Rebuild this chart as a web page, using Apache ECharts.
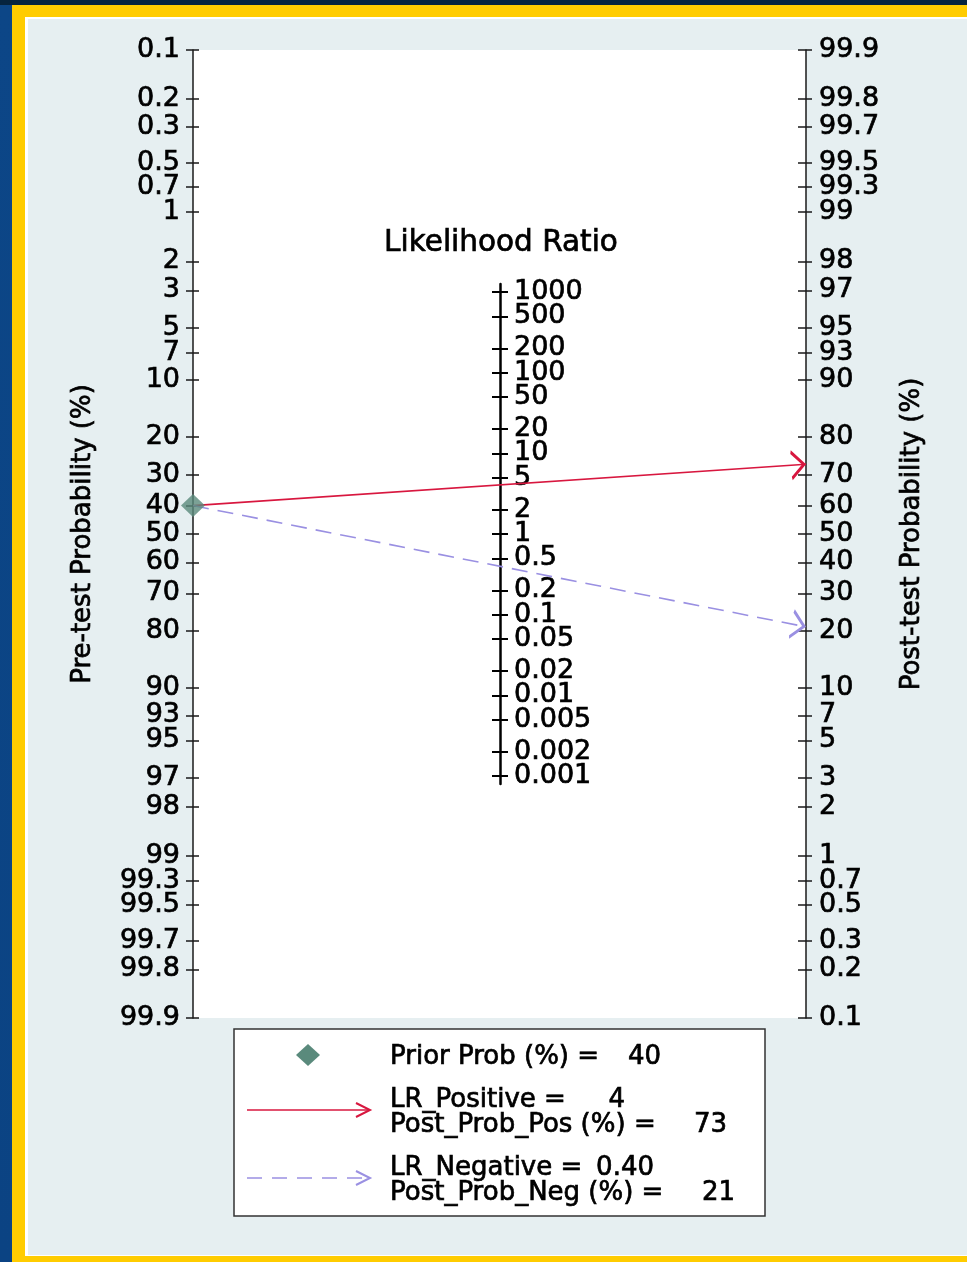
<!DOCTYPE html>
<html>
<head>
<meta charset="utf-8">
<script src="https://cdn.jsdelivr.net/npm/echarts@6/dist/echarts.min.js"></script>
<style>
html, body { margin: 0; padding: 0; }
body { width: 967px; height: 1262px; overflow: hidden; position: relative;
       background: linear-gradient(180deg, #06243f 0px, #06243f 5px, #0c4687 5px, #0b4383 100%); }
#frame { position: absolute; left: 12px; top: 5px; right: 0; bottom: 0; background: #ffcc00; }
#panel { position: absolute; left: 25px; top: 17px; right: 0; bottom: 6px; background: #e6eff1;
         border-left: 3px solid #fff; border-top: 2px solid #fff; border-bottom: 1px solid #fff; box-sizing: border-box; }
#chart { position: absolute; left: 0; top: 0; width: 967px; height: 1262px; }
</style>
</head>
<body>
<div id="frame"></div>
<div id="panel"></div>
<div id="chart"></div>
<script>
// tick values of the three scales
var preTicks = [0.1, 0.2, 0.3, 0.5, 0.7, 1, 2, 3, 5, 7, 10, 20, 30, 40, 50, 60, 70, 80, 90, 93, 95, 97, 98, 99, 99.3, 99.5, 99.7, 99.8, 99.9];
var postTicks = [99.9, 99.8, 99.7, 99.5, 99.3, 99, 98, 97, 95, 93, 90, 80, 70, 60, 50, 40, 30, 20, 10, 7, 5, 3, 2, 1, 0.7, 0.5, 0.3, 0.2, 0.1];
var lrTicks = [1000, 500, 200, 100, 50, 20, 10, 5, 2, 1, 0.5, 0.2, 0.1, 0.05, 0.02, 0.01, 0.005, 0.002, 0.001];

// results
var priorProb = [40];
var lrNames = ['LR_Positive', 'LR_Negative'];
var lrValues = ['4', '0.40'];
var postNames = ['Post_Prob_Pos', 'Post_Prob_Neg'];
var postProbs = [73, 21];

var red = '#d8173f';
var lilac = '#9a90e2';
var green = '#5a8a7c';
var FONT = 'DejaVu Sans';

function logit(p) { return Math.log(p / (100 - p)); }
function log10(v) { return Math.log(v) / Math.LN10; }
var lim = logit(99.9);

function fmtProb(v) { return String(parseFloat((100 / (1 + Math.exp(-v))).toFixed(1))); }
function fmtLR(v) { return String(parseFloat(Math.pow(10, v).toPrecision(3))); }

// a thin outline of the same colour makes the glyphs a bit heavier
var nameStyle = { fontFamily: FONT, fontSize: 26, color: '#000', textBorderColor: '#000', textBorderWidth: 0.7 };
var tickStyle = { fontFamily: FONT, fontSize: 27, lineHeight: 18, color: '#000', textBorderColor: '#000', textBorderWidth: 0.7,
                  padding: [5, 0, 0, 0], showMinLabel: true, showMaxLabel: true, hideOverlap: false };
var axisColor = '#1a1a1a';

var preVals = preTicks.map(logit);
var postVals = postTicks.map(logit);
var lrVals = lrTicks.map(log10);
// LR labels are packed tight; split over two label axes so echarts keeps all of them
var lrValsA = lrVals.filter(function (v, i) { return i % 2 === 0; });
var lrValsB = lrVals.filter(function (v, i) { return i % 2 === 1; });

// open arrow head, tip at centre of its box
var arrowPath = 'path://M6,0 M6,15 L12.3,29.3 L10.8,30 L6,19 L1.2,30 L-0.3,29.3 Z';

function gText(x, y, s, align, size) {
    return {
        type: 'text', x: x, y: y,
        style: { text: s, font: (size || 26) + 'px "DejaVu Sans"', fill: '#000', stroke: '#000', lineWidth: 0.7,
                 align: align || 'left', verticalAlign: 'middle' }
    };
}

function lrLabelAxis(vals) {
    return {
        gridIndex: 1, type: 'value', min: -3.1, max: 3.1, position: 'left',
        axisLine: { show: false }, axisTick: { show: false },
        axisLabel: Object.assign({ show: true, inside: true, customValues: vals, formatter: fmtLR, margin: 14 }, tickStyle),
        splitLine: { show: false }
    };
}

var chart = echarts.init(document.getElementById('chart'));

var option = {
    animation: false,
    grid: [
        { left: 193, top: 50, width: 613, height: 968, show: true, backgroundColor: '#fff', borderWidth: 0 },
        { left: 500, top: 284, width: 100, height: 500, show: false }
    ],
    xAxis: [
        { gridIndex: 0, type: 'value', min: 0, max: 1, show: false },
        { gridIndex: 1, type: 'value', min: 0, max: 1, show: false }
    ],
    yAxis: [
        {
            gridIndex: 0, type: 'value', min: -lim, max: lim, inverse: true, position: 'left',
            name: 'Pre-test Probability (%)', nameLocation: 'middle', nameGap: 97, nameTextStyle: nameStyle,
            axisLine: { show: true, lineStyle: { color: axisColor, width: 1.5 } },
            axisTick: { show: true, customValues: preVals, length: 7, lineStyle: { color: axisColor, width: 1.5 } },
            axisLabel: Object.assign({ show: true, customValues: preVals, formatter: fmtProb, margin: 13 }, tickStyle),
            splitLine: { show: false }
        },
        {
            gridIndex: 0, type: 'value', min: -lim, max: lim, inverse: true, position: 'left',
            axisLine: { show: false },
            axisTick: { show: true, inside: true, customValues: preVals, length: 6, lineStyle: { color: axisColor, width: 1.5 } },
            axisLabel: { show: false }, splitLine: { show: false }
        },
        {
            gridIndex: 0, type: 'value', min: -lim, max: lim, position: 'right',
            name: 'Post-test Probability (%)', nameLocation: 'middle', nameGap: 93, nameTextStyle: nameStyle,
            axisLine: { show: true, lineStyle: { color: axisColor, width: 1.5 } },
            axisTick: { show: true, customValues: postVals, length: 6, lineStyle: { color: axisColor, width: 1.5 } },
            axisLabel: Object.assign({ show: true, customValues: postVals, formatter: fmtProb, margin: 13 }, tickStyle),
            splitLine: { show: false }
        },
        {
            gridIndex: 0, type: 'value', min: -lim, max: lim, position: 'right',
            axisLine: { show: false },
            axisTick: { show: true, inside: true, customValues: postVals, length: 8, lineStyle: { color: axisColor, width: 1.5 } },
            axisLabel: { show: false }, splitLine: { show: false }
        },
        {
            gridIndex: 1, type: 'value', min: -3.1, max: 3.1, position: 'left',
            axisLine: { show: true, lineStyle: { color: '#000', width: 2.5 } },
            axisTick: { show: true, customValues: lrVals, length: 8, lineStyle: { color: '#000', width: 2 } },
            axisLabel: { show: false }, splitLine: { show: false }
        },
        {
            gridIndex: 1, type: 'value', min: -3.1, max: 3.1, position: 'left',
            axisLine: { show: false },
            axisTick: { show: true, inside: true, customValues: lrVals, length: 8, lineStyle: { color: '#000', width: 2 } },
            axisLabel: { show: false }, splitLine: { show: false }
        },
        lrLabelAxis(lrValsA),
        lrLabelAxis(lrValsB)
    ],
    series: [
        {
            type: 'lines', coordinateSystem: 'cartesian2d', xAxisIndex: 0, yAxisIndex: 0, silent: true, z: 3,
            symbol: ['none', arrowPath], symbolSize: [12, 30],
            lineStyle: { color: red, width: 1.6, opacity: 1, curveness: 0 },
            data: [{ coords: [[0, logit(priorProb[0])], [1, -logit(postProbs[0])]] }]
        },
        {
            type: 'lines', coordinateSystem: 'cartesian2d', xAxisIndex: 0, yAxisIndex: 0, silent: true, z: 3,
            symbol: ['none', arrowPath], symbolSize: [12, 30],
            lineStyle: { color: lilac, width: 1.6, opacity: 1, curveness: 0, type: [16, 9] },
            data: [{ coords: [[0, logit(priorProb[0])], [1, -logit(postProbs[1])]] }]
        },
        {
            type: 'scatter', xAxisIndex: 0, yAxisIndex: 0, clip: false, silent: true, z: 5,
            symbol: 'diamond', symbolSize: [24, 23],
            itemStyle: { color: green },
            data: [[0, logit(priorProb[0])]]
        }
    ],
    graphic: [
        gText(501, 243, 'Likelihood Ratio', 'center', 29.5),
        // legend box
        { type: 'rect', shape: { x: 234, y: 1029, width: 531, height: 187 }, style: { fill: '#fff', stroke: '#333', lineWidth: 1.5 } },
        { type: 'polygon', shape: { points: [[308, 1044], [320, 1055], [308, 1066], [296, 1055]] }, style: { fill: green } },
        { type: 'line', shape: { x1: 247, y1: 1110, x2: 369, y2: 1110 }, style: { stroke: red, lineWidth: 1.6 } },
        { type: 'polyline', shape: { points: [[356, 1103], [370, 1110], [356, 1117]] }, style: { stroke: red, lineWidth: 2, fill: null } },
        { type: 'line', shape: { x1: 247, y1: 1178, x2: 369, y2: 1178 }, style: { stroke: lilac, lineWidth: 1.6, lineDash: [15, 10] } },
        { type: 'polyline', shape: { points: [[356, 1171], [370, 1178], [356, 1185]] }, style: { stroke: lilac, lineWidth: 2, fill: null } },
        gText(390, 1057, 'Prior Prob (%) ='),
        gText(661, 1057, String(priorProb[0]), 'right'),
        gText(390, 1100, lrNames[0] + ' ='),
        gText(625, 1100, lrValues[0], 'right'),
        gText(390, 1125, postNames[0] + ' (%) ='),
        gText(727, 1125, String(postProbs[0]), 'right'),
        gText(390, 1168, lrNames[1] + ' ='),
        gText(654, 1168, lrValues[1], 'right'),
        gText(390, 1193, postNames[1] + ' (%) ='),
        gText(735, 1193, String(postProbs[1]), 'right')
    ]
};

chart.setOption(option);
</script>
</body>
</html>
